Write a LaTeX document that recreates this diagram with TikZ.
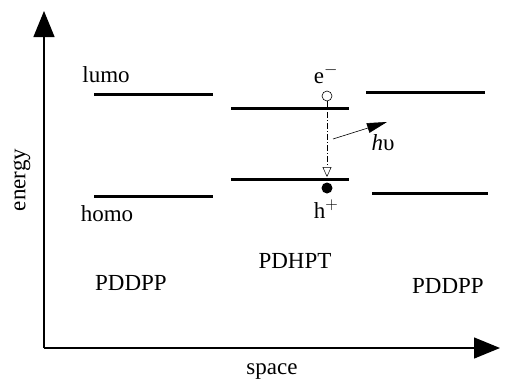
\documentclass[tikz,border=0pt]{standalone}
\usepackage{fontspec}
\setmainfont{Liberation Serif}
\usetikzlibrary{arrows.meta}
\begin{document}
\begin{tikzpicture}[x=1pt,y=-1pt,
  lvl/.style={line width=3pt},
  lab/.style={font=\fontsize{23}{26}\selectfont, inner sep=0pt},
  axis/.style={line width=1.3pt, -{Triangle[length=26pt,width=21pt]}}]
\useasboundingbox (0,0) rectangle (507,381);
% axes
\coordinate (O) at (44,348);
\coordinate (ytop) at (44,11);
\coordinate (xend) at (500,348);
\draw[axis] (O) -- (ytop);
\draw[axis] (O) -- (xend);
\node[lab, rotate=90] (energy) at (22,180) {energy};
\node[lab] (space) at (272,372) {space};
% energy levels
\draw[lvl] (94,94) coordinate (l1a) -- (213,94) coordinate (l1b);
\draw[lvl] (94,196) coordinate (h1a) -- (213,196) coordinate (h1b);
\draw[lvl] (231,108) coordinate (l2a) -- (349,108) coordinate (l2b);
\draw[lvl] (231,179) coordinate (h2a) -- (349,179) coordinate (h2b);
\draw[lvl] (366,92) coordinate (l3a) -- (485,92) coordinate (l3b);
\draw[lvl] (372,193) coordinate (h3a) -- (488,193) coordinate (h3b);
\node[lab] (lumo) at (106,75) {lumo};
\node[lab] (homo) at (107,214) {homo};
\node[lab] (m1) at (131,283) {PDDPP};
\node[lab] (m2) at (295,261) {PDHPT};
\node[lab] (m3) at (448,286) {PDDPP};
% electron and hole
\node[lab] (em) at (326,74) {e$^{\mathbf{-}}$};
\node[draw, circle, minimum size=10pt, inner sep=0pt, line width=0.6pt] (el) at (327,96) {};
\node[fill, circle, minimum size=11pt, inner sep=0pt] (ho) at (327,188) {};
\node[lab] (hp) at (326,209) {h$^{+}$};
\coordinate (tip) at (327,177);
\draw[line width=0.5pt, dash pattern=on 6pt off 2pt on 1pt off 2pt,
  -{Triangle[open,length=10pt,width=9pt]}] (el) -- (tip);
% photon
\coordinate (ph1) at (333,139);
\coordinate (ph2) at (387,122);
\draw[line width=0.6pt, -{Triangle[length=20pt,width=10pt]}] (ph1) -- (ph2);
\node[lab] (hv) at (383,143) {\textit{h}υ};
\end{tikzpicture}
\end{document}
